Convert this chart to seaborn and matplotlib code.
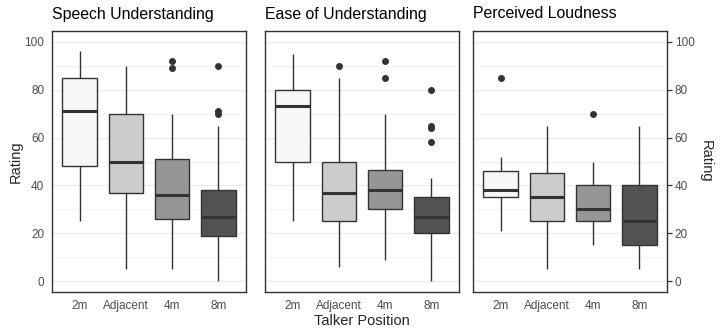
import matplotlib
matplotlib.use("Agg")
import matplotlib.pyplot as plt
import seaborn as sns
import pandas as pd
from matplotlib.ticker import MultipleLocator

sns.set_style("white")
plt.rcParams['font.family'] = ['Liberation Sans', 'DejaVu Sans']

positions = ["2m", "Adjacent", "4m", "8m"]
panels = ["Speech Understanding", "Ease of Understanding", "Perceived Loudness"]
fills = ["#F7F7F7", "#CCCCCC", "#969696", "#525252"]

# Box summaries: whisker low, Q1, median, Q3, whisker high
speech_low = [25, 5, 5, 0]
speech_q1 = [48, 37, 26, 19]
speech_med = [71, 50, 36, 27]
speech_q3 = [85, 70, 51, 38]
speech_high = [96, 90, 70, 65]
speech_out = [[], [], [89, 92], [70, 71, 90]]

ease_low = [25, 6, 9, 0]
ease_q1 = [50, 25, 30, 20]
ease_med = [73, 37, 38, 27]
ease_q3 = [80, 50, 46.5, 35]
ease_high = [95, 85, 70, 43]
ease_out = [[], [90], [85, 92], [58, 64, 65, 80]]

loud_low = [21, 5, 15, 5]
loud_q1 = [35, 25, 25, 15]
loud_med = [38, 35, 30, 25]
loud_q3 = [46, 45, 40, 40]
loud_high = [52, 65, 50, 65]
loud_out = [[85], [], [70], []]

summaries = {
    panels[0]: (speech_low, speech_q1, speech_med, speech_q3, speech_high, speech_out),
    panels[1]: (ease_low, ease_q1, ease_med, ease_q3, ease_high, ease_out),
    panels[2]: (loud_low, loud_q1, loud_med, loud_q3, loud_high, loud_out),
}

# Expand each summary into a sample whose boxplot reproduces it
rows = []
M = 12
for panel, (lo, q1, med, q3, hi, out) in summaries.items():
    for i, pos in enumerate(positions):
        vals = [lo[i]] + [q1[i]] * M + [med[i]] * M + [q3[i]] * M + [hi[i]] + list(out[i])
        for v in vals:
            rows.append({"panel": panel, "position": pos, "rating": v})
df = pd.DataFrame(rows)

W, H = 720, 336
fig = plt.figure(figsize=(W / 100, H / 100), dpi=100)
lefts = [52, 265, 473]
pw = 194
top, bottom = 31, 292

edge = "#333333"
for k, panel in enumerate(panels):
    ax = fig.add_axes([lefts[k] / W, (H - bottom) / H, pw / W, (bottom - top) / H])
    sub = df[df.panel == panel]
    sns.boxplot(data=sub, x="position", y="rating", hue="position", order=positions,
                hue_order=positions, palette=fills, legend=False, width=0.75, ax=ax,
                linecolor=edge, linewidth=1.0, fliersize=4.0, showcaps=False,
                medianprops={"linewidth": 2.2, "color": edge},
                flierprops={"marker": "o", "markerfacecolor": edge, "markeredgecolor": edge},
                zorder=3)
    ax.set_xlim(-0.6, 3.6)
    ax.set_ylim(-4.5, 104.5)
    ax.yaxis.set_major_locator(MultipleLocator(20))
    ax.yaxis.set_minor_locator(MultipleLocator(10))
    ax.grid(axis="y", which="major", color="#EBEBEB", linewidth=1.0, zorder=0)
    ax.grid(axis="y", which="minor", color="#F2F2F2", linewidth=0.7, zorder=0)
    ax.grid(axis="x", visible=False)
    ax.set_axisbelow(True)
    for s in ax.spines.values():
        s.set_color(edge)
        s.set_linewidth(1.0)
    ax.tick_params(axis="both", which="major", length=3.5, width=0.9, color=edge,
                   labelsize=8.5, labelcolor="#4D4D4D", pad=2)
    ax.tick_params(axis="y", which="minor", length=0)
    ax.set_xlabel("")
    ax.set_ylabel("")
    ax.set_title(panel, loc="left", fontsize=11.4, color="black", pad=9)
    if k == 1:
        ax.tick_params(axis="y", labelleft=False)
        ax.set_xlabel("Talker Position", fontsize=10.5, labelpad=2)
    if k == 0:
        ax.set_ylabel("Rating", fontsize=10.5, labelpad=1)
    if k == 2:
        ax.yaxis.tick_right()
        ax.tick_params(axis="y", which="both", left=False, labelleft=False, right=True, labelright=True)
        ax.yaxis.set_label_position("right")
        ax.set_ylabel("Rating", fontsize=10.5, rotation=-90, labelpad=13)

fig.savefig("out.png", dpi=100)
